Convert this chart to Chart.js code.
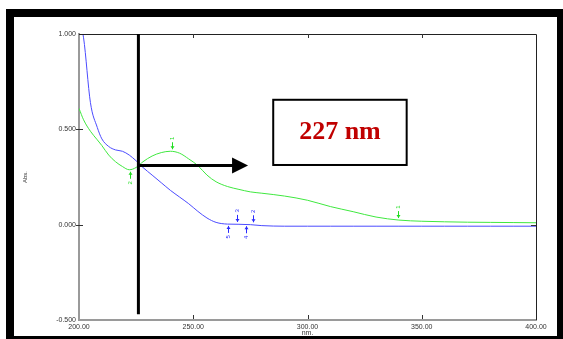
<!DOCTYPE html>
<html>
<head>
<meta charset="utf-8">
<script src="https://cdn.jsdelivr.net/npm/chart.js@4/dist/chart.umd.min.js"></script>
<style>
  body { margin: 0; background: #fff; }
  #wrap { position: relative; width: 563px; height: 339px; overflow: hidden; }
  #frame { position: absolute; left: 6px; top: 9px; width: 557px; height: 330px; box-sizing: border-box;
           border-top: 8px solid #000; border-left: 8px solid #000; border-right: 6px solid #000; border-bottom: 3px solid #000; }
  #theChart { position: absolute; left: 0; top: 0; }
</style>
</head>
<body>
<div id="wrap">
  <div id="frame"></div>
  <canvas id="theChart" width="563" height="339"></canvas>
</div>
<script>
// wavelengths (nm) shared by both spectra
var wavelength = [200, 202, 205, 208, 210, 213, 216, 219, 222, 225, 228, 232, 236, 240, 244, 248, 252, 256, 260, 265,
                  270, 275, 280, 290, 300, 310, 320, 330, 340, 350, 360, 370, 380, 390, 400];

// absorbance, blue trace
var blueAbs = [1.08, 0.98, 0.64, 0.51, 0.45, 0.41, 0.392, 0.385, 0.365, 0.335, 0.30, 0.26, 0.22, 0.18, 0.145, 0.11, 0.07, 0.035, 0.012, 0.003,
               0.002, 0.0, -0.005, -0.008, -0.008, -0.008, -0.008, -0.008, -0.008, -0.008, -0.008, -0.008, -0.008, -0.008, -0.008];

// absorbance, green trace
var greenAbs = [0.61, 0.55, 0.49, 0.445, 0.415, 0.365, 0.33, 0.305, 0.288, 0.30, 0.33, 0.36, 0.378, 0.385, 0.375, 0.345, 0.31, 0.26, 0.225, 0.20,
                0.185, 0.172, 0.165, 0.15, 0.128, 0.095, 0.068, 0.04, 0.024, 0.018, 0.015, 0.013, 0.012, 0.011, 0.01];

// axis ticks
var xTicks = [200, 250, 300, 350, 400];
var yTicks = [-0.5, 0, 0.5, 1.0];

// peak pick markers: wavelength, absorbance, number, above/below, colour
var markNm    = [265.2, 269.1, 273.1, 276.1, 240.6, 222.3, 339.6];
var markAbs   = [0.004, 0.004, 0.002, 0.002, 0.385, 0.288, 0.024];
var markLabel = ['5', '3', '4', '2', '1', '2', '1'];
var markUp    = [false, true, false, true, true, false, true];
var markBlue  = [true, true, true, true, false, false, false];

// lambda max annotation
var lambdaLine = 226;
var lambdaText = '227 nm';

function points(ys){
  var out = [];
  for(var i = 0; i < wavelength.length; i++){
    out.push({x: wavelength[i], y: ys[i]});
  }
  return out;
}

// extra drawing: frame, ticks, peak markers, line, arrow and box
var extras = {
  id: 'extras',
  afterDatasetsDraw: function(chart){
    var ctx = chart.ctx;
    var xs = chart.scales.x;
    var ys = chart.scales.y;
    var a = chart.chartArea;
    ctx.save();

    // top and right border
    ctx.strokeStyle = '#222';
    ctx.lineWidth = 1;
    ctx.beginPath();
    ctx.moveTo(a.left, a.top + 0.5);
    ctx.lineTo(a.right + 0.5, a.top + 0.5);
    ctx.lineTo(a.right + 0.5, a.bottom);
    ctx.stroke();

    // small tick marks
    ctx.strokeStyle = '#333';
    for(var i = 1; i < xTicks.length - 1; i++){
      var px = Math.round(xs.getPixelForValue(xTicks[i])) + 0.5;
      ctx.beginPath();
      ctx.moveTo(px, a.bottom - 1); ctx.lineTo(px, a.bottom - 5);
      ctx.moveTo(px, a.top); ctx.lineTo(px, a.top + 4);
      ctx.stroke();
    }
    for(var j = 1; j < yTicks.length - 1; j++){
      var py = Math.round(ys.getPixelForValue(yTicks[j])) + 0.5;
      ctx.beginPath();
      ctx.moveTo(a.left - 3, py); ctx.lineTo(a.left + 4, py);
      ctx.stroke();
    }
    var p0 = Math.round(ys.getPixelForValue(0)) + 0.5;
    ctx.beginPath();
    ctx.moveTo(a.right - 5, p0); ctx.lineTo(a.right, p0);
    ctx.stroke();

    // peak markers
    ctx.font = '6px "Liberation Sans", Arial, sans-serif';
    ctx.textAlign = 'center';
    ctx.textBaseline = 'middle';
    for(var k = 0; k < markNm.length; k++){
      var mx = Math.round(xs.getPixelForValue(markNm[k])) + 0.5;
      var my = ys.getPixelForValue(markAbs[k]);
      var col = markBlue[k] ? '#2a2aff' : '#22dd22';
      var d = markUp[k] ? -1 : 1;
      ctx.strokeStyle = col;
      ctx.fillStyle = col;
      ctx.lineWidth = 1;
      ctx.beginPath();
      ctx.moveTo(mx, my + d * 2);
      ctx.lineTo(mx, my + d * 9);
      ctx.stroke();
      ctx.beginPath();
      ctx.moveTo(mx, my + d * 2);
      ctx.lineTo(mx - 2, my + d * 5);
      ctx.lineTo(mx + 2, my + d * 5);
      ctx.closePath();
      ctx.fill();
      ctx.save();
      ctx.translate(mx, my + d * 13);
      ctx.rotate(-Math.PI / 2);
      ctx.fillText(markLabel[k], 0, 0);
      ctx.restore();
    }

    // vertical line at lambda max
    var lx = xs.getPixelForValue(lambdaLine);
    ctx.strokeStyle = '#000';
    ctx.lineWidth = 3;
    ctx.beginPath();
    ctx.moveTo(lx, ys.getPixelForValue(1.0));
    ctx.lineTo(lx, ys.getPixelForValue(-0.47));
    ctx.stroke();

    // arrow
    var ay = ys.getPixelForValue(0.31);
    var tip = xs.getPixelForValue(274);
    ctx.beginPath();
    ctx.moveTo(lx, ay);
    ctx.lineTo(tip - 14, ay);
    ctx.stroke();
    ctx.fillStyle = '#000';
    ctx.beginPath();
    ctx.moveTo(tip, ay);
    ctx.lineTo(tip - 16, ay - 8);
    ctx.lineTo(tip - 16, ay + 8);
    ctx.closePath();
    ctx.fill();

    // text box
    var bx1 = xs.getPixelForValue(285), bx2 = xs.getPixelForValue(343.4);
    var by1 = ys.getPixelForValue(0.655), by2 = ys.getPixelForValue(0.313);
    ctx.fillStyle = '#fff';
    ctx.fillRect(bx1, by1, bx2 - bx1, by2 - by1);
    ctx.lineWidth = 2;
    ctx.strokeRect(bx1, by1, bx2 - bx1, by2 - by1);
    ctx.fillStyle = '#c00000';
    ctx.font = 'bold 26px "Liberation Serif", "Times New Roman", serif';
    ctx.textAlign = 'center';
    ctx.textBaseline = 'middle';
    ctx.fillText(lambdaText, (bx1 + bx2) / 2, (by1 + by2) / 2);

    ctx.restore();
  }
};

var tickFont = {family: '"Liberation Sans", Arial, sans-serif', size: 7};

var myChart = new Chart(document.getElementById('theChart').getContext('2d'), {
  type: 'line',
  data: {
    datasets: [{
      label: 'blue',
      data: points(blueAbs),
      borderColor: '#4b4bff',
      borderWidth: 1,
      pointRadius: 0,
      cubicInterpolationMode: 'monotone'
    }, {
      label: 'green',
      data: points(greenAbs),
      borderColor: '#3fe83f',
      borderWidth: 1,
      pointRadius: 0,
      cubicInterpolationMode: 'monotone'
    }]
  },
  options: {
    responsive: false,
    animation: false,
    layout: {padding: {left: 18, top: 34, right: 27, bottom: 0}},
    plugins: {legend: {display: false}, tooltip: {enabled: false}},
    scales: {
      x: {
        type: 'linear',
        min: 200,
        max: 400,
        afterBuildTicks: function(s){ s.ticks = xTicks.map(function(v){ return {value: v}; }); },
        afterFit: function(s){ s.height = 19; },
        grid: {display: false, drawTicks: false},
        border: {display: true, color: '#9a9a9a', width: 2},
        ticks: {color: '#333', font: tickFont, padding: 3, maxRotation: 0,
                callback: function(v){ return Number(v).toFixed(2); }},
        title: {display: true, text: 'nm.', color: '#333', font: tickFont, padding: {top: 0, bottom: 2}}
      },
      y: {
        min: -0.5,
        max: 1.0,
        afterBuildTicks: function(s){ s.ticks = yTicks.map(function(v){ return {value: v}; }); },
        afterFit: function(s){ s.width = 61; },
        grid: {display: false, drawTicks: false},
        border: {display: true, color: '#9a9a9a', width: 2},
        ticks: {color: '#333', font: tickFont, padding: 3,
                callback: function(v){ return Number(v).toFixed(3); }},
        title: {display: true, text: 'Abs.', color: '#333', font: {family: tickFont.family, size: 6}, padding: 4}
      }
    }
  },
  plugins: [extras]
});
</script>
</body>
</html>
